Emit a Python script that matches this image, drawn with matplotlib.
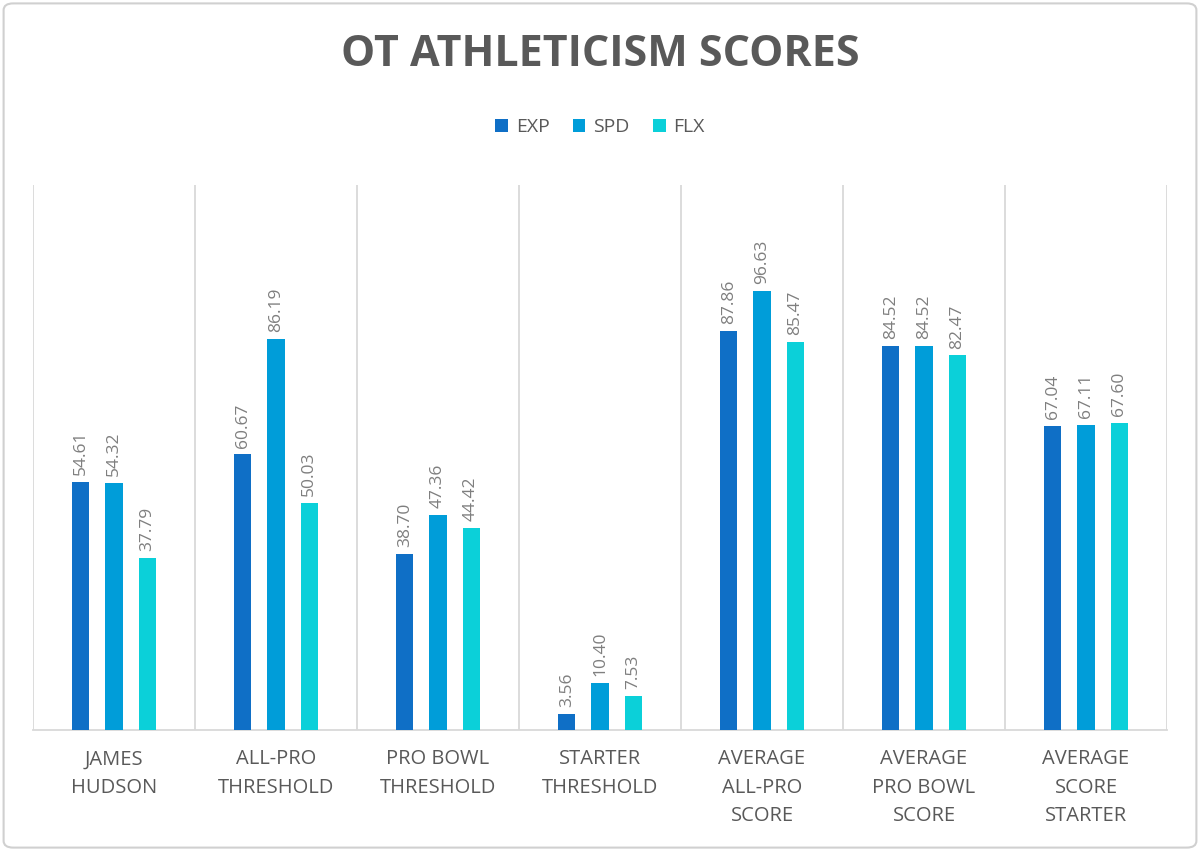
import matplotlib
matplotlib.use("Agg")
from matplotlib import pyplot as plt
from matplotlib.patches import FancyBboxPatch
import numpy as np

# chart data
categories = ["JAMES\nHUDSON", "ALL-PRO\nTHRESHOLD", "PRO BOWL\nTHRESHOLD", "STARTER\nTHRESHOLD",
              "AVERAGE\nALL-PRO\nSCORE", "AVERAGE\nPRO BOWL\nSCORE", "AVERAGE\nSCORE\nSTARTER"]
exp = [54.61, 60.67, 38.70, 3.56, 87.86, 84.52, 67.04]
spd = [54.32, 86.19, 47.36, 10.40, 96.63, 84.52, 67.11]
flx = [37.79, 50.03, 44.42, 7.53, 85.47, 82.47, 67.60]
series_names = ["EXP", "SPD", "FLX"]
colors = ["#0F6FC6", "#009DD9", "#0BD0D9"]

plt.rcParams['font.family'] = ['Open Sans', 'DejaVu Sans']

fig = plt.figure(figsize=(12, 8.51), dpi=100)
ax = fig.add_axes([0.0275, 0.1422, 0.945, 0.6404])

x = np.arange(len(categories))
width = 0.105
offset = 0.204
for i, (vals, name, col) in enumerate(zip([exp, spd, flx], series_names, colors)):
    pos = x + (i - 1) * offset
    ax.bar(pos, vals, width, color=col, label=name, zorder=3)
    for p, v in zip(pos, vals):
        ax.annotate(f"{v:.2f}", (p, v), xytext=(0, 5), textcoords="offset points",
                    rotation=90, ha="center", va="bottom", fontsize=12.5, color="#7F7F7F")

# separators between categories
for b in np.arange(-0.5, len(categories), 1.0):
    ax.axvline(b, color="#D9D9D9", lw=1.3, zorder=1)

ax.set_xlim(-0.5, len(categories) - 0.5)
ax.set_ylim(0, 120)
ax.set_yticks([])
ax.set_xticks(x)
ax.set_xticklabels(categories, fontsize=14.5, color="#595959", linespacing=1.55)
ax.tick_params(axis="x", length=0, pad=14)
for s in ["top", "right", "left"]:
    ax.spines[s].set_visible(False)
ax.spines["bottom"].set_color("#D9D9D9")
ax.spines["bottom"].set_linewidth(1.3)

fig.text(0.5, 1 - 54 / 851, "OT ATHLETICISM SCORES", ha="center", va="center",
         fontsize=31, fontweight="bold", color="#595959")

fig.legend(loc="center", bbox_to_anchor=(0.5, 1 - 127 / 851), ncol=3, frameon=False,
           fontsize=14, labelcolor="#595959", handlelength=0.65, handleheight=0.65,
           handletextpad=0.4, columnspacing=1.2)

# outer border
border = FancyBboxPatch((0.003, 0.004), 0.994, 0.992, boxstyle="round,pad=0,rounding_size=0.008",
                        transform=fig.transFigure, fill=False, ec="#D0D0D0", lw=1.5)
fig.patches.append(border)

fig.savefig("out.png", dpi=100)
